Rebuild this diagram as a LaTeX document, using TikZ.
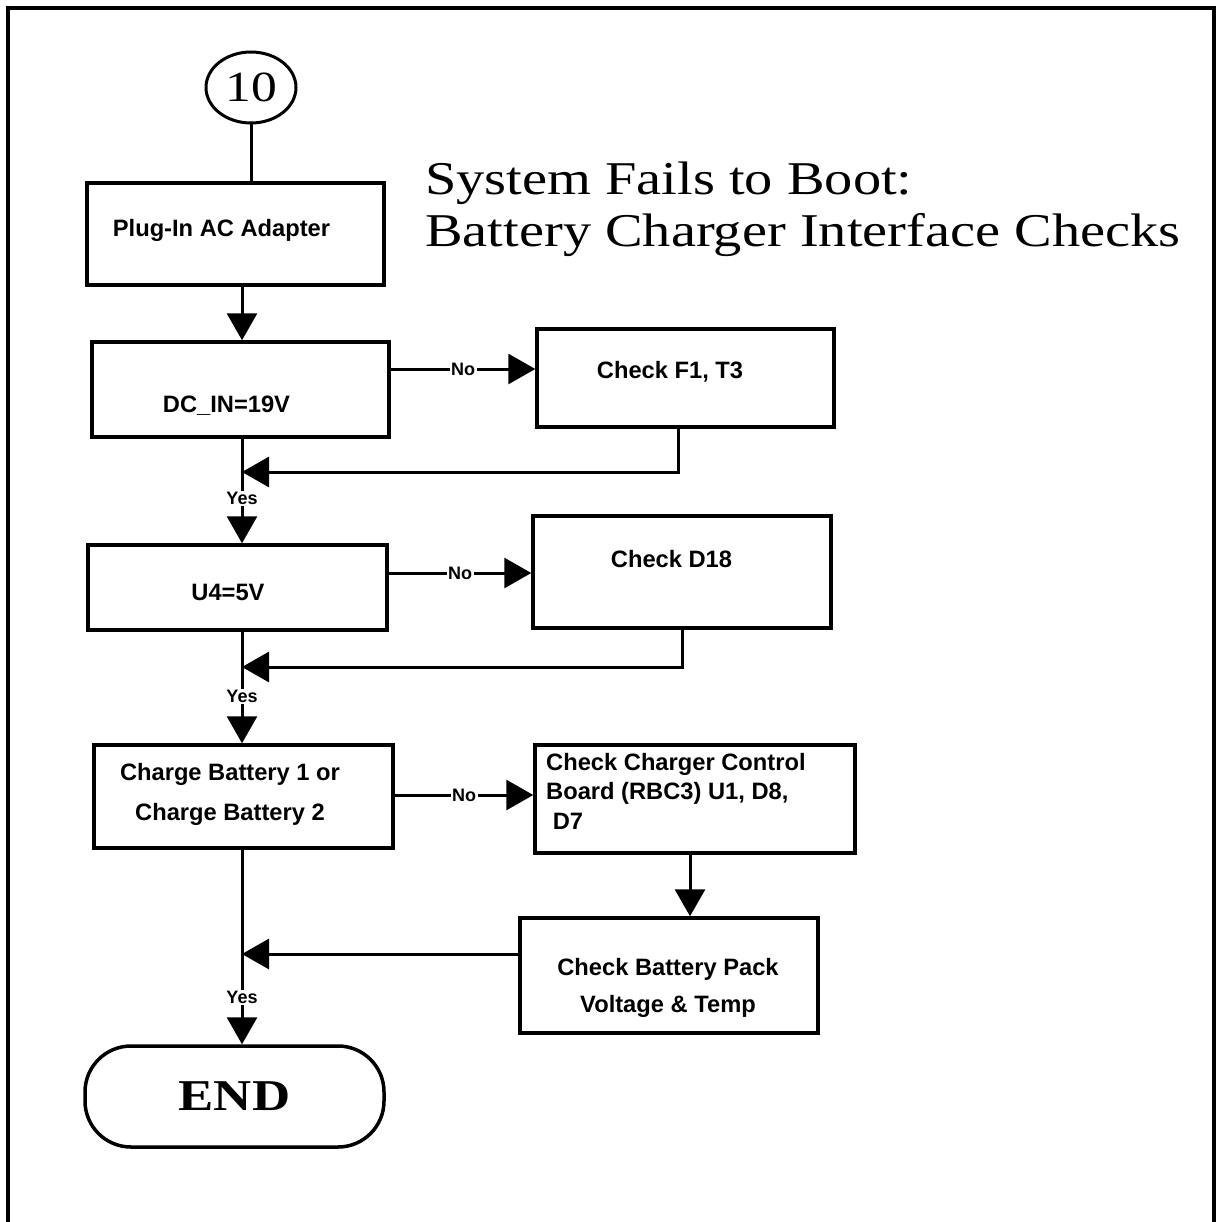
\documentclass[tikz,border=0pt]{standalone}
\usepackage{fontspec}
\setsansfont{Liberation Sans}
\newfontfamily\serifwide[FakeStretch=1.2]{Liberation Serif}
\usetikzlibrary{arrows.meta,shapes.geometric}

\begin{document}
\begin{tikzpicture}[x=1pt, y=-1pt,
  box/.style={draw, line width=3.5pt, inner sep=0pt},
  txt/.style={font=\sffamily\bfseries\fontsize{23.7}{29.5}\selectfont, inner sep=0pt, anchor=base},
  lbl/.style={font=\sffamily\bfseries\fontsize{18}{20}\selectfont, fill=white, inner sep=1.5pt},
  arr/.style={-{Triangle[length=27pt, width=30pt]}, line width=3pt},
  link/.style={line width=3pt}
]
  \useasboundingbox (0,0) rectangle (1219,1222);
  \draw[line width=4pt] (8,1222) -- (8,8) -- (1214,8) -- (1214,1222);

  % title
  \node[font=\serifwide\fontsize{47}{52}\selectfont, anchor=base west, align=left, inner sep=0pt]
    (title) at (425,246.6) {System Fails to Boot:\\Battery Charger Interface Checks};

  % main column
  \node[ellipse, draw, line width=3pt, minimum width=90pt, minimum height=71pt, inner sep=0pt,
        font=\serifwide\fontsize{43}{43}\selectfont] (ten) at (251,87.5) {10};
  \node[box, minimum width=297pt, minimum height=102pt] (plug) at (235.5,234) {};
  \node[txt] (plugtxt) at (221.5,237) {Plug-In AC Adapter};
  \node[box, minimum width=297pt, minimum height=95pt] (dc) at (240.5,389.5) {};
  \node[txt] (dctxt) at (226.5,412) {DC\_IN=19V};
  \node[box, minimum width=299pt, minimum height=85pt] (u4) at (237.5,587.5) {};
  \node[txt] (u4txt) at (228,600) {U4=5V};
  \node[box, minimum width=299pt, minimum height=103pt] (chg) at (243.5,796.5) {};
  \node[txt, align=center, font=\sffamily\bfseries\fontsize{23.7}{40}\selectfont]
    (chgtxt) at (230,820) {Charge Battery 1 or\\Charge Battery 2};
  \node[box, rounded corners=46pt, minimum width=299pt, minimum height=101pt,
        font=\serifwide\bfseries\fontsize{44}{44}\selectfont] (endn) at (234.5,1096.5) {END};

  % checks on the right
  \node[box, minimum width=297pt, minimum height=98pt] (chkf) at (685.5,378) {};
  \node[txt] (chkftxt) at (670,378) {Check F1, T3};
  \node[box, minimum width=298pt, minimum height=112pt] (chkd) at (682,572) {};
  \node[txt] (chkdtxt) at (671.5,567) {Check D18};
  \node[box, minimum width=320pt, minimum height=108pt] (ctrl) at (695,799) {};
  \node[txt, anchor=base west, align=left]
    (ctrltxt) at (546,829) {Check Charger Control\\Board (RBC3) U1, D8,\\\ D7};
  \node[box, minimum width=298pt, minimum height=115pt] (pack) at (669,975.5) {};
  \node[txt, align=center, font=\sffamily\bfseries\fontsize{23.7}{37}\selectfont]
    (packtxt) at (668,1012) {Check Battery Pack\\Voltage \& Temp};

  % connectors
  \coordinate (spine) at (242,0);
  \draw[link] (ten.south) -- (ten.south |- plug.north);
  \draw[arr] (plug.south -| spine) -- (dc.north -| spine);
  \draw[arr] (dc.south -| spine) -- node[lbl, pos=0.57] (yes1) {Yes} (u4.north -| spine);
  \draw[arr] (u4.south -| spine) -- node[lbl, pos=0.58] (yes2) {Yes} (chg.north -| spine);
  \draw[arr] (chg.south -| spine) -- node[lbl, pos=0.76] (yes3) {Yes} (endn.north -| spine);

  \coordinate (n1) at (0,369);
  \draw[arr] (dc.east |- n1) -- node[lbl] (no1) {No} (chkf.west |- n1);
  \coordinate (n2) at (0,573);
  \draw[arr] (u4.east |- n2) -- node[lbl] (no2) {No} (chkd.west |- n2);
  \coordinate (n3) at (0,795);
  \draw[arr] (chg.east |- n3) -- node[lbl] (no3) {No} (ctrl.west |- n3);

  % back to the main line
  \coordinate (r1) at (678,472);
  \draw[arr] (chkf.south -| r1) -- (r1) -- (r1 -| spine);
  \coordinate (r2) at (682,667);
  \draw[arr] (chkd.south -| r2) -- (r2) -- (r2 -| spine);
  \coordinate (c7) at (690,0);
  \draw[arr] (ctrl.south -| c7) -- (pack.north -| c7);
  \coordinate (r3) at (0,954);
  \draw[arr] (pack.west |- r3) -- (r3 -| spine);
\end{tikzpicture}
\end{document}
